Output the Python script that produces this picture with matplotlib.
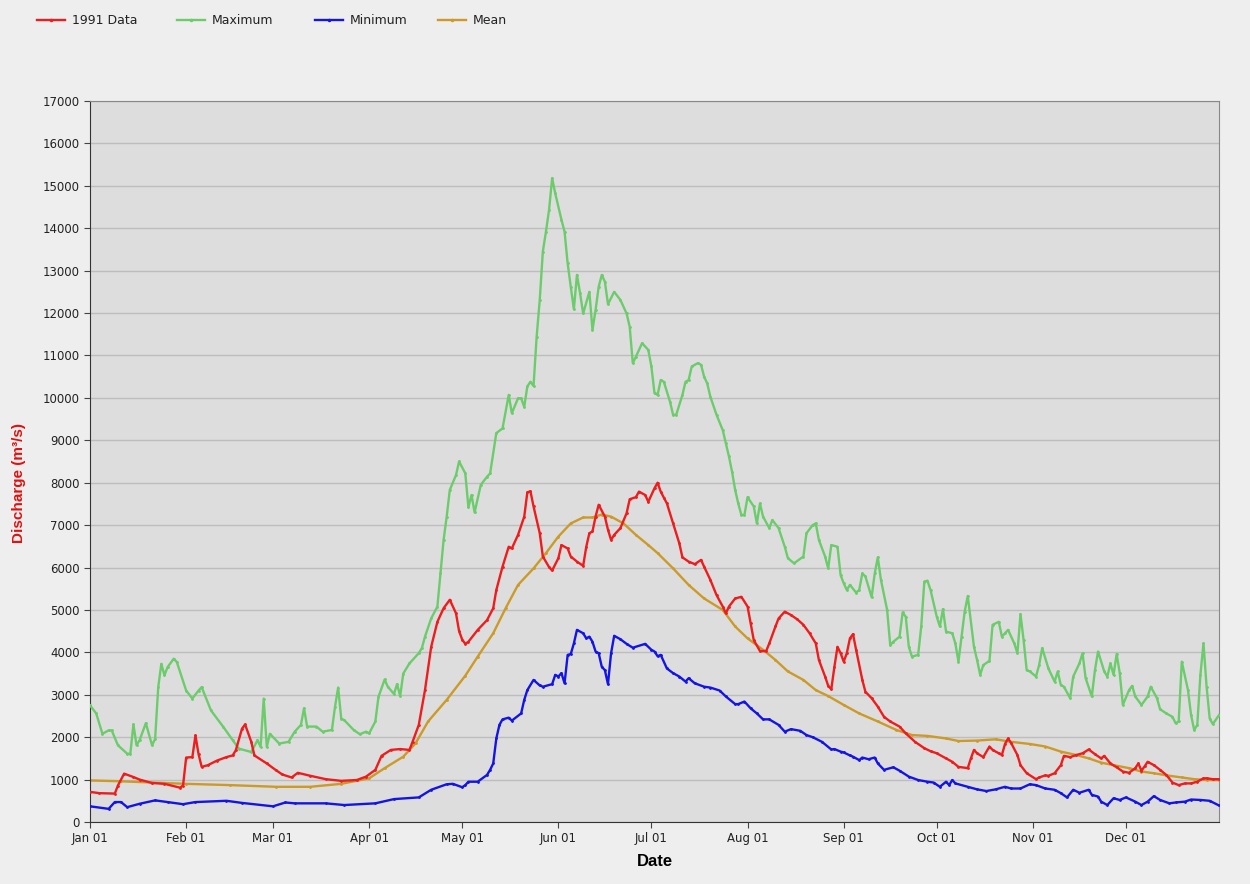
import numpy as np
import matplotlib
matplotlib.use("Agg")
import matplotlib.pyplot as plt
import matplotlib.dates as mdates
from matplotlib.lines import Line2D

# day of year (0 = Jan 01 1991) and discharge in m3/s
data_days = [0, 3, 8, 9, 11, 14, 16, 20, 24, 29, 30, 31, 33, 34, 35, 36, 38, 41, 44, 46, 47, 49, 50, 52, 53,
             57, 60, 62, 65, 67, 71, 76, 81, 86, 89, 92, 94, 97, 100, 103, 104, 106, 108, 110, 112, 114,
             116, 118, 119, 120, 121, 122, 125, 128, 130, 131, 133, 135, 136, 138, 140, 141, 142, 143, 145,
             146, 148, 149, 151, 152, 154, 155, 157, 159, 160, 161, 162, 163, 164, 166, 167, 168, 169, 171,
             173, 174, 176, 177, 179, 180, 182, 183, 184, 185, 186, 188, 190, 191, 193, 195, 197, 198, 200,
             202, 204, 205, 206, 208, 210, 212, 213, 214, 216, 218, 219, 221, 222, 224, 226, 228, 230, 232,
             234, 235, 237, 238, 239, 240, 241, 242, 243, 244, 245, 246, 247, 249, 250, 252, 254, 256, 258,
             261, 263, 266, 269, 271, 273, 276, 278, 280, 283, 284, 285, 286, 288, 290, 291, 293, 294, 295,
             296, 297, 299, 300, 302, 305, 306, 308, 309, 311, 313, 314, 316, 318, 320, 322, 324, 326, 327,
             329, 331, 333, 335, 337, 338, 339, 340, 341, 343, 345, 347, 349, 351, 353, 355, 357, 359, 360,
             362, 364]
data_vals = [710, 680, 670, 860, 1140, 1060, 1000, 920, 900, 810, 860, 1520, 1530, 2040, 1600, 1300, 1340,
             1450, 1530, 1570, 1690, 2200, 2300, 1890, 1570, 1380, 1220, 1120, 1050, 1160, 1090, 1010, 970,
             990, 1070, 1230, 1560, 1700, 1720, 1700, 1890, 2290, 3110, 4130, 4720, 5040, 5240, 4920, 4500,
             4300, 4200, 4250, 4530, 4760, 5040, 5470, 6020, 6490, 6450, 6770, 7200, 7770, 7800, 7440, 6810,
             6260, 6010, 5930, 6220, 6530, 6450, 6260, 6140, 6040, 6490, 6810, 6850, 7200, 7480, 7200, 6890,
             6650, 6770, 6930, 7280, 7610, 7660, 7790, 7710, 7550, 7870, 8000, 7790, 7650, 7510, 7040, 6570,
             6240, 6140, 6080, 6180, 6020, 5710, 5350, 5080, 4920, 5080, 5270, 5310, 5080, 4690, 4290, 4030,
             4030, 4210, 4610, 4800, 4960, 4880, 4780, 4650, 4450, 4210, 3820, 3430, 3210, 3130, 3660, 4130,
             3980, 3780, 3980, 4330, 4430, 4060, 3350, 3070, 2920, 2720, 2480, 2370, 2250, 2090, 1890, 1740,
             1670, 1620, 1500, 1420, 1300, 1270, 1500, 1700, 1620, 1530, 1780, 1700, 1620, 1580, 1840, 1970,
             1860, 1580, 1340, 1150, 1010, 1050, 1100, 1090, 1150, 1340, 1560, 1530, 1580, 1620, 1710, 1600,
             1500, 1560, 1380, 1290, 1190, 1160, 1270, 1380, 1210, 1310, 1420, 1340, 1230, 1110, 930, 870,
             910, 910, 950, 1030, 1030, 1010, 1010]

max_days = [0, 2, 4, 6, 7, 9, 12, 13, 14, 15, 16, 18, 20, 21, 22, 23, 24, 25, 27, 28, 31, 33, 35, 36, 39,
            43, 46, 48, 52, 54, 55, 56, 57, 58, 61, 64, 66, 68, 69, 70, 73, 75, 78, 79, 80, 81, 82, 85, 87,
            89, 90, 92, 93, 95, 96, 98, 99, 100, 101, 103, 106, 107, 108, 110, 112, 113, 114, 115, 116, 118,
            119, 121, 122, 123, 124, 126, 128, 129, 131, 133, 135, 136, 138, 139, 140, 141, 142, 143, 144,
            145, 146, 147, 148, 149, 150, 152, 153, 154, 155, 156, 157, 158, 159, 161, 162, 163, 164, 165,
            166, 167, 169, 171, 173, 174, 175, 176, 178, 180, 181, 182, 183, 184, 185, 187, 188, 189, 191,
            192, 193, 194, 196, 197, 198, 199, 200, 202, 204, 205, 206, 207, 208, 209, 210, 211, 212, 214,
            215, 216, 217, 219, 220, 222, 224, 225, 227, 230, 231, 233, 234, 235, 237, 238, 239, 241, 242,
            243, 244, 245, 247, 248, 249, 250, 252, 253, 254, 255, 257, 258, 259, 261, 262, 263, 264, 265,
            267, 268, 269, 270, 271, 273, 274, 275, 276, 278, 279, 280, 281, 282, 283, 285, 286, 287, 288,
            290, 291, 293, 294, 295, 296, 298, 299, 300, 301, 302, 303, 305, 306, 307, 309, 311, 312, 313,
            314, 316, 317, 319, 320, 321, 323, 324, 325, 327, 328, 329, 330, 331, 332, 333, 335, 336, 337,
            339, 341, 342, 344, 345, 347, 349, 350, 351, 352, 354, 355, 356, 357, 358, 359, 360, 361, 362,
            364]
max_vals = [2750, 2560, 2080, 2160, 2160, 1810, 1610, 1610, 2300, 1810, 1930, 2330, 1810, 1960, 3180, 3730,
            3460, 3650, 3850, 3770, 3100, 2910, 3100, 3180, 2630, 2240, 1930, 1730, 1650, 1930, 1770, 2910,
            1770, 2080, 1850, 1890, 2130, 2290, 2680, 2250, 2250, 2130, 2170, 2720, 3170, 2440, 2400, 2170,
            2070, 2130, 2090, 2370, 2950, 3360, 3190, 3020, 3250, 2970, 3500, 3740, 3980, 4100, 4370, 4800,
            5080, 5860, 6650, 7200, 7830, 8180, 8500, 8220, 7420, 7710, 7300, 7950, 8140, 8220, 9170, 9280,
            10070, 9640, 9990, 9990, 9790, 10270, 10380, 10280, 11440, 12310, 13450, 13920, 14430, 15180,
            14820, 14200, 13920, 13170, 12620, 12090, 12900, 12470, 11990, 12500, 11600, 12070, 12620,
            12900, 12740, 12210, 12500, 12310, 11990, 11680, 10820, 10970, 11290, 11130, 10740, 10110,
            10070, 10420, 10380, 9910, 9600, 9600, 10070, 10380, 10420, 10740, 10820, 10780, 10500, 10340,
            10030, 9600, 9240, 8930, 8620, 8260, 7830, 7510, 7240, 7240, 7660, 7440, 7040, 7510, 7200, 6930,
            7120, 6930, 6490, 6220, 6100, 6260, 6810, 7000, 7040, 6650, 6260, 5980, 6530, 6490, 5820, 5630,
            5470, 5590, 5410, 5470, 5860, 5790, 5300, 5860, 6240, 5710, 5000, 4170, 4250, 4370, 4940, 4840,
            4130, 3900, 3940, 4610, 5670, 5690, 5470, 4840, 4610, 5020, 4490, 4450, 4210, 3780, 4370, 4960,
            5330, 4130, 3820, 3470, 3700, 3800, 4650, 4720, 4370, 4450, 4530, 4210, 3980, 4900, 4290, 3580,
            3550, 3430, 3700, 4100, 3620, 3310, 3550, 3230, 3190, 2920, 3430, 3740, 3980, 3390, 2960, 3580,
            4020, 3550, 3430, 3740, 3470, 3960, 3510, 2760, 3110, 3210, 2960, 2760, 2960, 3190, 2920, 2660,
            2560, 2480, 2330, 2370, 3780, 3110, 2520, 2170, 2290, 3470, 4210, 3190, 2440, 2310, 2520]

min_days = [0, 6, 8, 10, 12, 16, 21, 25, 30, 34, 44, 49, 59, 63, 66, 76, 82, 92, 98, 106, 110, 115, 117,
            120, 121, 122, 125, 128, 129, 130, 131, 132, 133, 135, 136, 139, 140, 141, 143, 145, 146, 149,
            150, 151, 152, 153, 154, 155, 156, 157, 159, 160, 161, 162, 163, 164, 165, 166, 167, 168, 169,
            171, 173, 175, 179, 181, 182, 183, 184, 186, 188, 190, 192, 193, 195, 198, 200, 203, 205, 208,
            209, 211, 213, 215, 217, 219, 222, 224, 226, 229, 231, 233, 236, 239, 240, 242, 243, 245, 246,
            248, 249, 251, 253, 254, 256, 259, 261, 264, 267, 270, 272, 274, 276, 277, 278, 279, 283, 286,
            289, 292, 295, 297, 300, 303, 305, 308, 311, 313, 315, 317, 319, 322, 323, 325, 326, 328, 330,
            332, 334, 337, 339, 341, 343, 345, 348, 350, 353, 355, 358, 361, 364]
min_vals = [370, 310, 470, 470, 350, 430, 510, 470, 420, 470, 500, 450, 370, 460, 440, 440, 400, 440, 540,
            580, 760, 890, 900, 820, 870, 950, 950, 1110, 1230, 1380, 1970, 2290, 2420, 2460, 2390, 2560,
            2880, 3110, 3350, 3220, 3190, 3250, 3470, 3430, 3510, 3270, 3940, 3960, 4210, 4530, 4450, 4330,
            4370, 4250, 4020, 3980, 3660, 3580, 3250, 3980, 4390, 4310, 4200, 4110, 4200, 4060, 4020, 3910,
            3940, 3620, 3510, 3430, 3310, 3390, 3270, 3190, 3170, 3100, 2960, 2780, 2780, 2840, 2680, 2560,
            2420, 2420, 2290, 2130, 2190, 2150, 2050, 2000, 1890, 1710, 1720, 1660, 1640, 1570, 1540, 1460,
            1520, 1480, 1520, 1380, 1230, 1290, 1210, 1070, 990, 950, 930, 830, 950, 870, 990, 910, 830, 770,
            730, 770, 830, 790, 790, 890, 870, 790, 760, 680, 580, 760, 690, 760, 640, 600, 480, 400, 560,
            520, 580, 480, 400, 480, 610, 520, 440, 460, 480, 530, 520, 500, 390]

mean_days = [0, 10, 20, 31, 45, 60, 71, 81, 90, 95, 101, 105, 109, 115, 121, 125, 130, 134, 138, 143, 147,
             151, 155, 159, 162, 165, 168, 172, 176, 180, 183, 188, 193, 198, 204, 208, 212, 217, 221, 225,
             230, 234, 238, 243, 248, 254, 260, 265, 270, 276, 280, 286, 292, 297, 303, 308, 313, 318, 322,
             326, 330, 335, 339, 343, 348, 352, 356, 360, 364]
mean_vals = [980, 960, 930, 900, 870, 830, 830, 900, 1030, 1270, 1540, 1860, 2370, 2880, 3450, 3900, 4450,
             5040, 5590, 5980, 6340, 6730, 7040, 7180, 7180, 7250, 7200, 7040, 6770, 6530, 6340, 5980, 5590,
             5270, 5000, 4610, 4330, 4060, 3820, 3550, 3350, 3110, 2970, 2760, 2560, 2370, 2170, 2050, 2030,
             1970, 1910, 1920, 1950, 1890, 1840, 1780, 1660, 1580, 1500, 1400, 1340, 1270, 1190, 1150, 1090,
             1050, 1010, 990, 990]

start = np.datetime64("1991-01-01")


def to_dates(days):
    return start + np.array(days).astype("timedelta64[D]")


series = [
    ("1991 Data", data_days, data_vals, "#ee1c1c"),
    ("Maximum", max_days, max_vals, "#6ccc6c"),
    ("Minimum", min_days, min_vals, "#1414e6"),
    ("Mean", mean_days, mean_vals, "#cc9a28"),
]

fig = plt.figure(figsize=(12.5, 8.84), dpi=100, facecolor="#eeeeee")
ax = fig.add_axes([90 / 1250, 1 - 822 / 884, 1129 / 1250, 721 / 884])
ax.set_facecolor("#dddddd")

# draw mean first so that the 1991 data sits on top
for zorder, (label, days, vals, color) in zip([5, 3, 4, 2], series):
    ax.plot(to_dates(days), vals, color=color, lw=1.7, marker=".", markersize=2, zorder=zorder)

ax.set_xlim(start, start + np.timedelta64(364, "D"))
ax.set_ylim(0, 17000)
ax.set_yticks(np.arange(0, 17001, 1000))
ax.xaxis.set_major_locator(mdates.MonthLocator())
ax.xaxis.set_major_formatter(mdates.DateFormatter("%b %d"))
ax.yaxis.grid(True, color="#bdbdbd", lw=1)
ax.set_axisbelow(True)
ax.tick_params(labelsize=8.5, length=4, color="#444444", labelcolor="#222222")
for side in ["left", "bottom"]:
    ax.spines[side].set_color("#333333")
for side in ["top", "right"]:
    ax.spines[side].set_color("#888888")

ax.set_xlabel("Date", fontsize=12, fontweight="bold", family=["Liberation Sans Narrow", "Liberation Sans"],
              labelpad=6)
ax.set_ylabel("Discharge (m\u00b3/s)", fontsize=11, fontweight="bold", color="#e01010",
              family=["Liberation Sans Narrow", "Liberation Sans"])
ax.yaxis.set_label_coords(-0.057, 0.47)

# legend row above the plot
legend_x = [37, 177, 315, 438]
for x0, (label, days, vals, color) in zip(legend_x, series):
    y = 1 - 20 / 884
    fig.add_artist(Line2D([x0 / 1250, (x0 + 28) / 1250], [y, y], color=color, lw=1.7))
    fig.add_artist(Line2D([(x0 + 14) / 1250], [y], color=color, marker=".", markersize=3))
    fig.text((x0 + 35) / 1250, y, label, fontsize=9, va="center", ha="left", color="#222222")

fig.savefig("out.png", dpi=100, facecolor=fig.get_facecolor())
